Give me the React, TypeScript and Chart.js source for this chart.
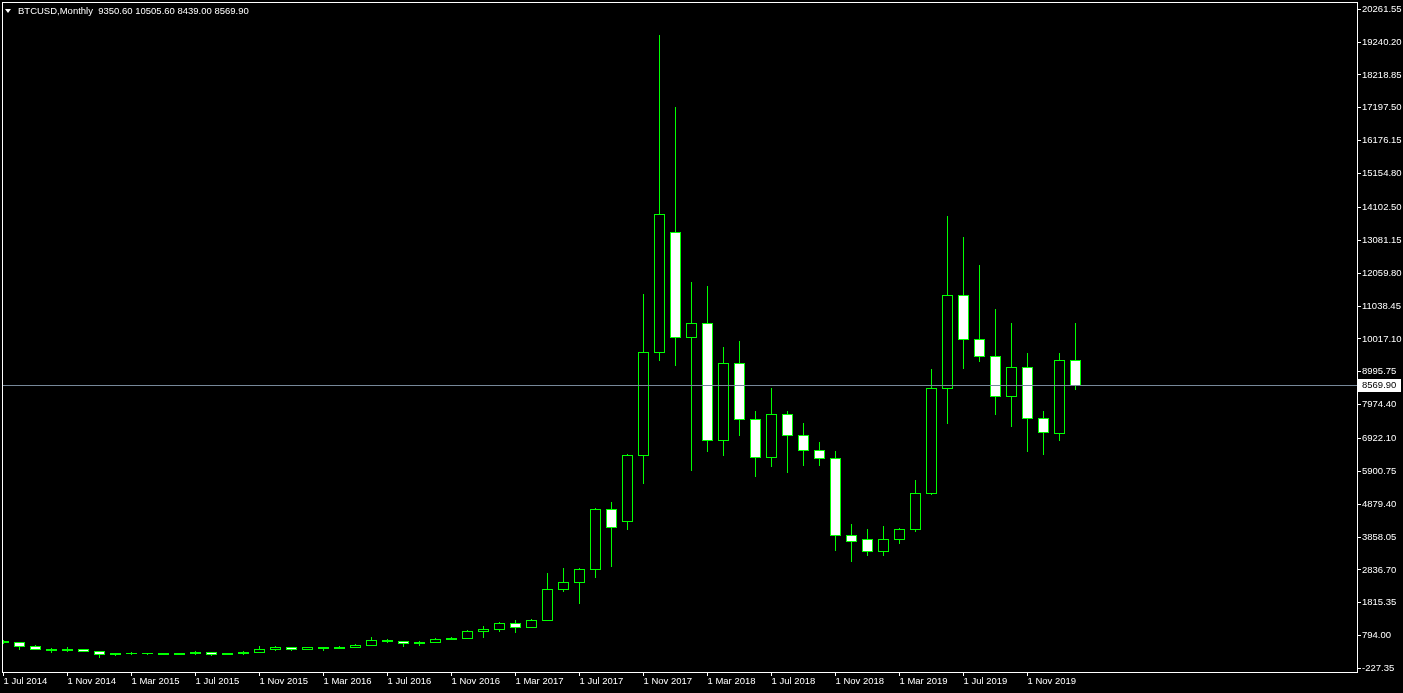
import React, { useEffect, useRef } from "react";
import { Chart, registerables } from "chart.js";

Chart.register(...registerables);

// ---- data (monthly BTCUSD candles) ----
const months = [
  "2014-07", "2014-08", "2014-09", "2014-10", "2014-11", "2014-12",
  "2015-01", "2015-02", "2015-03", "2015-04", "2015-05", "2015-06",
  "2015-07", "2015-08", "2015-09", "2015-10", "2015-11", "2015-12",
  "2016-01", "2016-02", "2016-03", "2016-04", "2016-05", "2016-06",
  "2016-07", "2016-08", "2016-09", "2016-10", "2016-11", "2016-12",
  "2017-01", "2017-02", "2017-03", "2017-04", "2017-05", "2017-06",
  "2017-07", "2017-08", "2017-09", "2017-10", "2017-11", "2017-12",
  "2018-01", "2018-02", "2018-03", "2018-04", "2018-05", "2018-06",
  "2018-07", "2018-08", "2018-09", "2018-10", "2018-11", "2018-12",
  "2019-01", "2019-02", "2019-03", "2019-04", "2019-05", "2019-06",
  "2019-07", "2019-08", "2019-09", "2019-10", "2019-11", "2019-12",
  "2020-01", "2020-02",
];

const opens = [
  635, 580, 478, 388, 338, 378, 320, 220, 254, 244,
  243, 230, 263, 284, 225, 236, 290, 380, 440, 375,
  440, 415, 440, 505, 650, 625, 575, 600, 690, 720,
  945, 985, 1190, 1070, 1280, 2230, 2465, 2870, 4730, 4360,
  6410, 9610, 13340, 10080, 10510, 6880, 9270, 7530, 6350, 7685,
  7030, 6570, 6320, 3925, 3800, 3430, 3800, 4110, 5230, 8490,
  11380, 10015, 9490, 8245, 9145, 7560, 7100, 9350.6,
];

const highs = [
  665, 605, 505, 413, 445, 385, 320, 265, 285, 248,
  247, 265, 315, 290, 255, 320, 480, 480, 445, 445,
  445, 475, 540, 760, 680, 630, 630, 720, 755, 960,
  1100, 1200, 1280, 1320, 2740, 2900, 2880, 4740, 4950, 6430,
  11410, 19460, 17220, 11790, 11660, 9770, 9960, 7780, 8490, 7780,
  7405, 6815, 6535, 4265, 4110, 4205, 4140, 5630, 9080, 13840,
  13185, 12315, 10950, 10510, 9580, 7777, 9580, 10505.6,
];

const lows = [
  570, 360, 360, 290, 300, 312, 140, 200, 225, 220,
  228, 222, 205, 200, 225, 230, 285, 355, 355, 365,
  355, 410, 435, 500, 595, 470, 510, 595, 680, 715,
  755, 920, 900, 1060, 1270, 2190, 1810, 2620, 2960, 4110,
  5540, 9360, 9210, 5940, 6535, 6410, 7030, 5760, 6070, 5880,
  6100, 6100, 3460, 3115, 3305, 3305, 3675, 4050, 5200, 7405,
  9110, 9330, 7685, 7310, 6535, 6440, 6876, 8439,
];

const closes = [
  580, 478, 388, 338, 378, 320, 220, 254, 244, 243,
  230, 263, 284, 225, 236, 290, 380, 440, 375, 440,
  415, 440, 505, 650, 625, 575, 600, 690, 720, 945,
  985, 1190, 1070, 1280, 2230, 2465, 2870, 4730, 4170, 6410,
  9610, 13900, 10080, 10510, 6880, 9270, 7530, 6350, 7685, 7030,
  6570, 6320, 3925, 3740, 3430, 3800, 4110, 5230, 8490, 11380,
  10015, 9490, 8245, 9145, 7560, 7125, 9350, 8569.9,
];

// time-axis ticks (month index from Jul 2014) and their labels
const xTickIndex = [0, 4, 8, 12, 16, 20, 24, 28, 32, 36, 40, 44, 48, 52, 56, 60, 64];
const xTickLabels = [
  "1 Jul 2014", "1 Nov 2014", "1 Mar 2015", "1 Jul 2015", "1 Nov 2015",
  "1 Mar 2016", "1 Jul 2016", "1 Nov 2016", "1 Mar 2017", "1 Jul 2017",
  "1 Nov 2017", "1 Mar 2018", "1 Jul 2018", "1 Nov 2018", "1 Mar 2019",
  "1 Jul 2019", "1 Nov 2019",
];

// price-axis tick labels
const yTickValues = [
  20261.55, 19240.2, 18218.85, 17197.5, 16176.15, 15154.8, 14102.5,
  13081.15, 12059.8, 11038.45, 10017.1, 8995.75, 7974.4, 6922.1,
  5900.75, 4879.4, 3858.05, 2836.7, 1815.35, 794.0, -227.35,
];

const symbolTitle = "BTCUSD,Monthly";

// visible ranges of the axes
const X_MIN = -0.09375;
const X_MAX = 84.65625;
const Y_MIN = -364;
const Y_MAX = 20487;

const FONT = "Liberation Sans";
const GREEN = "#00ff00";

export default function App() {
  const ref = useRef<HTMLCanvasElement | null>(null);

  useEffect(() => {
    const canvas = ref.current;
    if (!canvas) return;
    const n = months.length;
    const last = closes[n - 1];
    const lastOpen = opens[n - 1];
    const lastHigh = highs[n - 1];
    const lastLow = lows[n - 1];
    void lastOpen; void lastHigh; void lastLow;

    const bodyData = months.map((_, i) => ({ x: i, y: [opens[i], closes[i]] }));
    const wickData = months.map((_, i) => ({ x: i, y: [lows[i], highs[i]] }));
    const bodyFill = months.map((_, i) => (closes[i] > opens[i] ? "#000000" : "#ffffff"));

    const snapRow = (v: number) => Math.round(v - 0.25);

    const snapPlugin = {
      id: "snapBars",
      afterDatasetsUpdate(chart: any) {
        chart.data.datasets.forEach((_: any, di: number) => {
          const meta = chart.getDatasetMeta(di);
          if (meta.type !== "bar") return;
          meta.data.forEach((el: any) => {
            const t = snapRow(Math.min(el.y, el.base));
            const b = snapRow(Math.max(el.y, el.base)) + 1;
            el.y = t;
            el.base = b;
            el.x = Math.floor(el.x) + 0.5;
          });
        });
      },
    };

    const framePlugin = {
      id: "frameAndPrice",
      afterDraw(chart: any) {
        const { ctx, chartArea: a, scales } = chart;
        ctx.save();
        ctx.strokeStyle = "#ffffff";
        ctx.lineWidth = 1;
        ctx.strokeRect(a.left + 0.5, a.top + 0.5, a.right - a.left - 1, a.bottom - a.top - 1);
        const y = Math.floor(scales.y.getPixelForValue(last));
        ctx.fillStyle = "#ffffff";
        ctx.fillRect(a.right, y - 6, 43, 13);
        ctx.fillStyle = "#000000";
        ctx.font = `9.5px "${FONT}"`;
        ctx.textBaseline = "middle";
        ctx.textAlign = "left";
        ctx.fillText(last.toFixed(2), a.right + 4, y + 0.5);
        ctx.restore();
      },
    };

    const chart = new Chart(canvas, {
      type: "bar",
      data: {
        datasets: [
          {
            type: "line",
            data: [
              { x: X_MIN, y: last },
              { x: X_MAX, y: last },
            ],
            borderColor: "#778899",
            borderWidth: 1,
            pointRadius: 0,
            order: 0,
          } as any,
          {
            type: "bar",
            data: bodyData as any,
            backgroundColor: bodyFill,
            borderColor: GREEN,
            borderWidth: 1,
            borderSkipped: false,
            inflateAmount: 0,
            grouped: false,
            barThickness: 11,
            order: 1,
          } as any,
          {
            type: "bar",
            data: wickData as any,
            backgroundColor: GREEN,
            borderWidth: 0,
            inflateAmount: 0,
            grouped: false,
            barThickness: 1,
            order: 2,
          } as any,
        ],
      },
      options: {
        responsive: false,
        animation: false,
        devicePixelRatio: 1,
        events: [],
        layout: { padding: { left: 2, top: 2, right: 0, bottom: 0 } },
        plugins: {
          legend: { display: false },
          tooltip: { enabled: false },
          title: { display: false },
        },
        scales: {
          x: {
            type: "linear",
            position: "bottom",
            min: X_MIN,
            max: X_MAX,
            offset: false,
            grid: {
              display: true,
              offset: false,
              drawOnChartArea: false,
              drawTicks: true,
              tickLength: 3,
              color: "#ffffff",
              lineWidth: 1,
            },
            border: { display: false },
            afterBuildTicks: (s: any) => {
              s.ticks = xTickIndex.map((v) => ({ value: v }));
            },
            afterFit: (s: any) => {
              s.height = 20;
              s.paddingLeft = 0;
              s.paddingRight = 0;
            },
            ticks: {
              autoSkip: false,
              maxRotation: 0,
              minRotation: 0,
              align: "start",
              padding: 0,
              color: "#ffffff",
              font: { family: FONT, size: 9.5 },
              callback: (_v: any, i: number) => xTickLabels[i],
            },
          } as any,
          y: {
            type: "linear",
            position: "right",
            min: Y_MIN,
            max: Y_MAX,
            grid: {
              display: true,
              drawOnChartArea: false,
              drawTicks: true,
              tickLength: 3,
              color: "#ffffff",
              lineWidth: 1,
            },
            border: { display: false },
            afterBuildTicks: (s: any) => {
              s.ticks = yTickValues.map((v) => ({ value: v }));
            },
            afterFit: (s: any) => {
              s.width = 45;
              s.paddingTop = 0;
              s.paddingBottom = 0;
            },
            ticks: {
              autoSkip: false,
              padding: 1,
              color: "#ffffff",
              font: { family: FONT, size: 9.5 },
              callback: (v: any) => Number(v).toFixed(2),
            },
          } as any,
        },
      },
      plugins: [snapPlugin, framePlugin],
    });

    return () => {
      chart.destroy();
    };
  }, []);

  const titleValues = [opens[opens.length - 1], highs[highs.length - 1], lows[lows.length - 1], closes[closes.length - 1]]
    .map((v) => v.toFixed(2))
    .join(" ");

  return (
    <div
      style={{
        position: "fixed",
        left: 0,
        top: 0,
        width: 1403,
        height: 693,
        background: "#000000",
        overflow: "hidden",
      }}
    >
      <canvas
        ref={ref}
        width={1403}
        height={693}
        style={{ position: "absolute", left: 0, top: 0, width: 1403, height: 693, display: "block" }}
      />
      <div
        style={{
          position: "absolute",
          left: 5,
          top: 9,
          width: 0,
          height: 0,
          borderLeft: "3.5px solid transparent",
          borderRight: "3.5px solid transparent",
          borderTop: "4px solid #ffffff",
        }}
      />
      <div
        style={{
          position: "absolute",
          left: 18,
          top: 4,
          height: 13,
          lineHeight: "13px",
          color: "#ffffff",
          fontFamily: FONT,
          fontSize: "9.5px",
          whiteSpace: "pre",
        }}
      >
        {symbolTitle + "  " + titleValues}
      </div>
    </div>
  );
}
